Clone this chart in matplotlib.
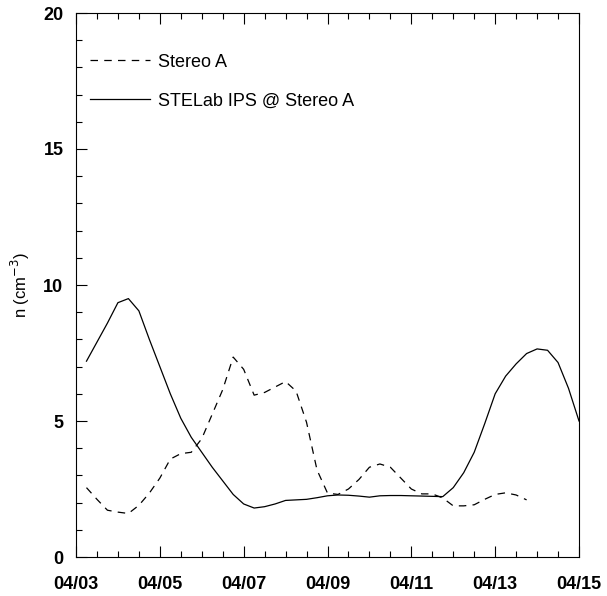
import numpy as np
import matplotlib
matplotlib.use('Agg')
from matplotlib import pyplot as plt
from matplotlib.ticker import MultipleLocator, FixedLocator

plt.rcParams['font.family'] = ['Liberation Sans', 'DejaVu Sans']

# time in days of April, sampled every 6 hours
t_ips = np.arange(3.25, 15.01, 0.25)
n_ips = [7.2, 7.9, 8.6, 9.35, 9.5, 9.05, 8.0, 7.0, 6.0, 5.1, 4.4, 3.85,
         3.3, 2.8, 2.3, 1.95, 1.8, 1.85, 1.95, 2.08, 2.1, 2.12, 2.18, 2.25,
         2.28, 2.27, 2.24, 2.2, 2.25, 2.26, 2.26, 2.25, 2.24, 2.23, 2.22, 2.55,
         3.1, 3.85, 4.9, 6.0, 6.65, 7.1, 7.48, 7.65, 7.6, 7.15, 6.2, 5.0]

t_sta = np.arange(3.25, 13.76, 0.25)
n_sta = [2.55, 2.12, 1.72, 1.65, 1.6, 1.9, 2.35, 2.9, 3.6, 3.8, 3.85, 4.35,
         5.25, 6.15, 7.35, 6.9, 5.95, 6.05, 6.25, 6.45, 6.1, 4.95, 3.2, 2.35,
         2.3, 2.5, 2.85, 3.3, 3.42, 3.3, 2.9, 2.5, 2.32, 2.32, 2.17, 1.88,
         1.88, 1.92, 2.12, 2.3, 2.36, 2.28, 2.1]

xticks = [3, 5, 7, 9, 11, 13, 15]
xlabels = ['04/03', '04/05', '04/07', '04/09', '04/11', '04/13', '04/15']

fig = plt.figure(figsize=(6.07, 5.96), dpi=100)
ax = fig.add_axes([76/607, 1-557/596, 503/607, 544/596])

ax.plot(t_sta, n_sta, color='black', lw=0.9, linestyle=(0, (6, 5)), label='Stereo A')
ax.plot(t_ips, n_ips, color='black', lw=0.9, label='STELab IPS @ Stereo A')

ax.set_xlim(3, 15)
ax.set_ylim(0, 20)
ax.xaxis.set_major_locator(FixedLocator(xticks))
ax.set_xticklabels(xlabels)
ax.xaxis.set_minor_locator(MultipleLocator(0.5))
ax.yaxis.set_major_locator(MultipleLocator(5))
ax.yaxis.set_minor_locator(MultipleLocator(1))

ax.tick_params(axis='x', which='both', direction='in', top=True, bottom=True,
               labelsize=13, pad=14)
ax.tick_params(axis='y', which='both', direction='in', left=True, right=False,
               labelsize=13, pad=9)
ax.tick_params(which='major', length=8, width=0.8)
ax.tick_params(which='minor', length=4.3, width=0.8)
for lab in ax.get_xticklabels() + ax.get_yticklabels():
    lab.set_fontweight('bold')
for s in ax.spines.values():
    s.set_linewidth(0.8)

ax.set_ylabel(r'n (cm$^{-3}$)', fontsize=12)
ax.yaxis.set_label_coords(-0.088, 0.5)

ax.legend(loc='upper left', bbox_to_anchor=(0.028, 0.925), frameon=False,
          fontsize=13, handlelength=3.3, handletextpad=0.45, labelspacing=1.2,
          borderaxespad=0, borderpad=0)

fig.savefig('out.png', dpi=100)
